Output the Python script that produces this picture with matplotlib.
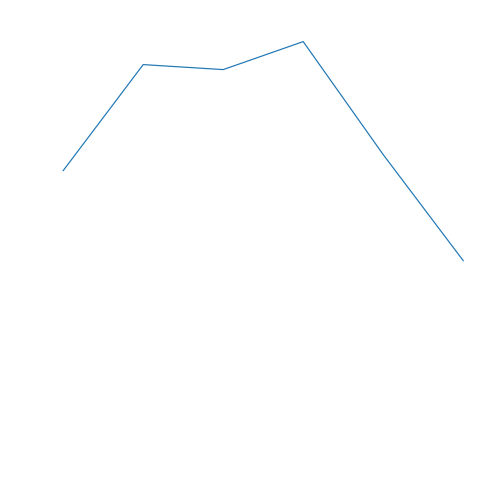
import matplotlib
matplotlib.use("Agg")
import matplotlib.pyplot as plt

# values
x_vals = [0, 1, 2, 3, 4, 5]
y_vals = [83.5, 110.0, 108.75, 115.75, 87.5, 61.0]

fig = plt.figure(figsize=(7, 7), dpi=72)
ax = fig.add_axes([0, 0, 1, 1])
ax.plot(x_vals, y_vals, color="#1f77b4", linewidth=1.2)
ax.set_xlim(-0.79, 5.51)
ax.set_ylim(0.15, 126.15)
ax.axis("off")

fig.savefig("out.png", dpi=72)
